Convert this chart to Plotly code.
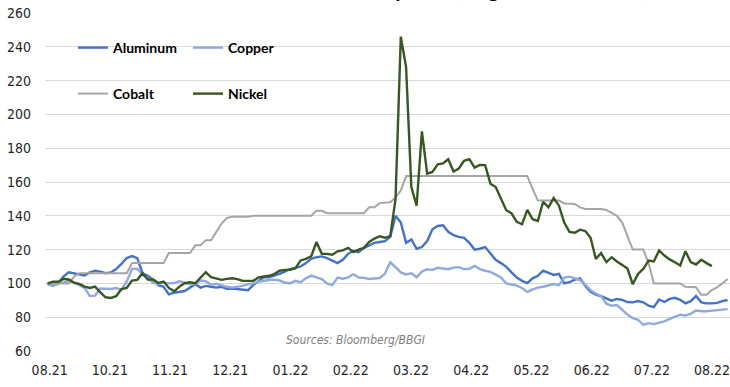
import plotly.graph_objects as go

# trading-day index (every 2nd trading day from end of Aug 2021)
day_index = list(range(0, 260, 2))

tick_labels = ["08.21", "10.21", "11.21", "12.21", "01.22", "02.22",
               "03.22", "04.22", "05.22", "06.22", "07.22", "08.22"]

aluminum = [100, 98.7, 100, 104, 106.6, 106, 105.5, 104.7, 106.5, 107.5,
            107, 106, 106.5, 108.5, 111.6, 115, 116.2, 115, 106, 104.5,
            102, 99, 98, 93.5, 94.5, 95, 95.5, 97.5, 99.5, 97.5,
            98.5, 98, 97.5, 98, 96.8, 97, 96.8, 96.5, 96, 99,
            101.5, 103.6, 103.6, 104.5, 105.6, 107, 108.6, 109, 110, 112,
            114.6, 115.5, 116, 115, 113.5, 112, 114, 117.5, 119.3, 118.5,
            121, 122.5, 124, 124.5, 125, 127.5, 140, 136, 124, 126,
            120.5, 121.5, 125, 132, 134, 134.4, 130.5, 128.5, 127.5, 127,
            124, 120, 120.5, 121.5, 118, 114, 112, 109.8, 106.5, 103.5,
            101.5, 100.2, 103, 104.5, 107.6, 106.5, 105, 105.6, 100, 100.7,
            102.2, 103, 98.5, 95, 93.3, 92.4, 91.2, 89.8, 90.8, 90.3,
            89, 88.8, 89.6, 88.8, 86.8, 86, 90.5, 89, 90.8, 91.5,
            90.3, 88.2, 89.5, 92.5, 88.8, 88.2, 88.2, 88.5, 89.5, 90.2]

copper = [99.5, 98.5, 100, 100.5, 101.5, 100.5, 99, 97.3, 92.5, 92.8,
          97, 96.7, 96.7, 97.3, 96.1, 101, 108.6, 108.6, 105, 103,
          100.5, 99.7, 100.5, 100, 100.2, 101.3, 100.5, 99.5, 99.8, 101.7,
          101.3, 99.2, 99.8, 98.7, 98, 97.5, 97.8, 98.5, 99.5, 100,
          101, 101.7, 102, 102.2, 101.7, 100.5, 100, 101.5, 100.7, 103,
          104.6, 103.6, 102.5, 100, 99, 103.4, 102.8, 103.5, 105.5, 103.5,
          103.3, 102.6, 102.8, 103.2, 105.8, 112.5, 109.6, 106.5, 105.3, 106,
          103.6, 107, 108.4, 108, 109.2, 109, 108.4, 109.3, 109.6, 108.5,
          108.6, 110.3, 108.5, 107.5, 106.8, 105.2, 103.5, 100, 99.2, 98.7,
          97.3, 95, 96.5, 97.5, 98, 98.7, 99.6, 99, 103.5, 104,
          103, 102, 99.3, 96, 94, 92.5, 88, 86.8, 87.2, 84.5,
          81.5, 79.5, 78.5, 75.5, 76.5, 75.9, 76.7, 77.5, 79, 80.5,
          81.5, 81, 82, 84, 83.5, 83.5, 84, 84.2, 84.5, 84.8]

cobalt = [100, 100, 100, 100, 100, 104, 106, 106, 106, 106,
          106, 106, 106, 106, 106, 106, 112, 112, 112, 112,
          112, 112, 112, 118, 118, 118, 118, 118, 122.5, 122.5,
          125.5, 125.5, 130.5, 135.4, 138.8, 139.4, 139.5, 139.5, 139.5, 140,
          140, 140, 140, 140, 140, 140, 140, 140, 140, 140,
          140, 143, 143, 141.5, 141.5, 141.5, 141.5, 141.5, 141.5, 141.5,
          141.5, 145, 145, 147.5, 147.7, 148, 151, 155, 163.5, 163.5,
          163.5, 163.5, 163.5, 163.5, 163.5, 163.5, 163.5, 163.5, 163.5, 163.5,
          163.5, 163.5, 163.5, 163.5, 163.5, 163.5, 163.5, 163.5, 163.5, 163.5,
          163.5, 163.5, 156, 149, 149, 149, 149, 149, 147.3, 147.3,
          147, 145, 144, 144, 144, 144, 143.5, 141.5, 140, 136,
          128, 120, 120, 120, 112, 100, 100, 100, 100, 100,
          100, 98, 97.7, 97.7, 93.3, 93.3, 96, 97.7, 100, 102.6]

nickel = [100, 101, 101, 102.7, 102.3, 100.5, 99.7, 98.1, 97.3, 98.1,
          94.7, 91.8, 91.4, 92.4, 96.7, 97.3, 101.7, 102.1, 106, 102.3,
          102.3, 100.3, 101.1, 97.3, 95.3, 98.1, 100.1, 100.7, 100.1, 103.3,
          106.6, 103.7, 102.7, 102.1, 102.7, 103, 102.5, 101.5, 101.5, 101.5,
          103.5, 104, 104.5, 105.5, 107.5, 108, 108, 109, 113.6, 114.5,
          116, 124.5, 117.5, 117.5, 117, 119, 119.5, 121, 118.5, 120,
          121, 124.5, 126.5, 127.9, 127, 128, 150, 246, 228, 157,
          146, 190, 165, 166, 170.5, 171, 173.5, 166.2, 168, 172.5,
          173.5, 168.5, 170.1, 170, 159, 157, 150, 143.3, 141.5, 136.4,
          135, 143.5, 138, 137, 148.3, 145, 150.5, 146, 136, 130.5,
          130, 131.8, 131, 127, 114.5, 118, 112.6, 115.5, 113, 110.8,
          108.8, 99.5, 105.6, 108.6, 113.5, 113, 119.5, 116.5, 114.2, 112.5,
          110.6, 119, 112.6, 111.2, 114, 112, 110.2]

tick_pos = [0.76 + 22.85 * j for j in range(len(tick_labels))]

AXIS_FONT = "'Liberation Sans Narrow', 'DejaVu Sans Condensed', Lato, sans-serif"
LEG_FONT = "Lato, 'Open Sans', sans-serif"

series = [
    ("Aluminum", aluminum, "#4472C4", 2.4, "legend"),
    ("Copper", copper, "#8FAADC", 2.4, "legend2"),
    ("Cobalt", cobalt, "#A5A5A5", 2.0, "legend3"),
    ("Nickel", nickel, "#385723", 2.4, "legend4"),
]

fig = go.Figure()
for name, vals, col, w, leg in series:
    fig.add_trace(go.Scatter(
        x=day_index[:len(vals)], y=vals, name=name, mode="lines",
        line=dict(color=col, width=w), legend=leg,
    ))

PX_L, PX_W, PX_T, PX_H = 45, 685, 13, 338

def px_x(p):
    return (p - PX_L) / PX_W

def px_y(p):
    return 1 - (p - PX_T) / PX_H

leg_common = dict(xanchor="left", yanchor="middle", bgcolor="rgba(0,0,0,0)",
                  font=dict(family=LEG_FONT, size=14, color="#000000", weight=700),
                  borderwidth=0)

fig.update_layout(
    width=730, height=387,
    margin=dict(l=PX_L, r=0, t=PX_T, b=36, pad=0),
    paper_bgcolor="white", plot_bgcolor="white",
    showlegend=True,
    legend=dict(x=px_x(73), y=px_y(48), **leg_common),
    legend2=dict(x=px_x(188), y=px_y(48), **leg_common),
    legend3=dict(x=px_x(73), y=px_y(94), **leg_common),
    legend4=dict(x=px_x(188), y=px_y(94), **leg_common),
    xaxis=dict(range=[-1.0, 258.9], tickmode="array", tickvals=tick_pos,
               ticktext=tick_labels, showgrid=False, zeroline=False,
               showline=False, ticks="", ticklabelstandoff=9,
               ticklabeloverflow="allow",
               tickfont=dict(family=AXIS_FONT, size=14, color="#262626")),
    yaxis=dict(range=[60, 260], dtick=20, tick0=60, showgrid=True,
               gridcolor="#D9D9D9", gridwidth=1, zeroline=False,
               showline=False, ticks="", ticklabelstandoff=13,
               tickfont=dict(family=AXIS_FONT, size=14, color="#262626")),
    shapes=[dict(type="rect", xref="paper", yref="paper",
                 x0=px_x(72), x1=px_x(303), y0=px_y(122), y1=px_y(33),
                 fillcolor="white", line=dict(width=0), layer="between")],
    annotations=[
        dict(text="Sources: Bloomberg/BBGI", xref="paper", yref="paper",
             x=px_x(355), y=px_y(340), xanchor="center", yanchor="middle",
             showarrow=False,
             font=dict(family=AXIS_FONT, size=12, color="#7F7F7F", style="italic")),
        dict(text="Industrial metal prices (August 2021 = 100)", xref="paper", yref="paper",
             x=px_x(648), y=1, xanchor="right", yanchor="bottom", yshift=9.5,
             showarrow=False,
             font=dict(family=LEG_FONT, size=21, color="#000000", weight=700)),
    ],
)

fig.write_html("out.html")
